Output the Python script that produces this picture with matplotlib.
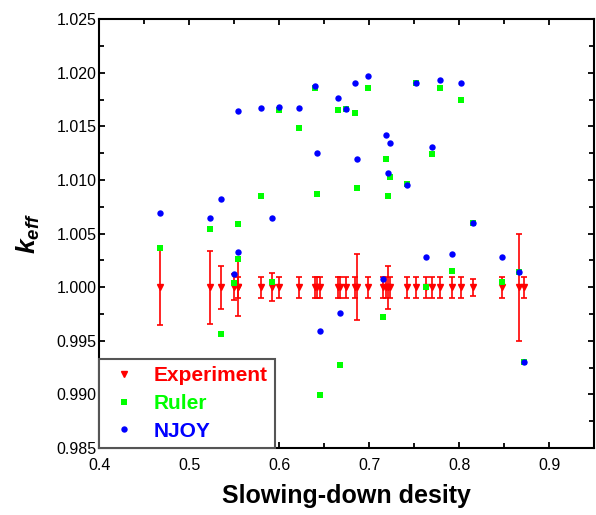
import matplotlib
matplotlib.use('Agg')
import matplotlib.pyplot as plt
from matplotlib.lines import Line2D
from matplotlib.ticker import MultipleLocator, FormatStrFormatter

plt.rcParams['font.family'] = ['Liberation Sans', 'DejaVu Sans']
plt.rcParams['mathtext.fontset'] = 'custom'
plt.rcParams['mathtext.bfit'] = 'Liberation Sans:italic:bold'
plt.rcParams['mathtext.it'] = 'Liberation Sans:italic'
plt.rcParams['mathtext.rm'] = 'Liberation Sans'

# slowing-down density of each configuration
density = [0.4678, 0.5230, 0.5350, 0.5497, 0.5538, 0.5545, 0.5800, 0.5920,
           0.5993, 0.6220, 0.6400, 0.6420, 0.6450, 0.6650, 0.6670, 0.6740,
           0.6841, 0.6858, 0.6982, 0.7150, 0.7189, 0.7203, 0.7232, 0.7422,
           0.7522, 0.7633, 0.7693, 0.7790, 0.7923, 0.8022, 0.8150, 0.8475,
           0.8663, 0.8722]

exp_keff = [1.0] * len(density)
exp_err = [0.0035, 0.0034, 0.0020, 0.0012, 0.0010, 0.0027, 0.0010, 0.0013,
           0.0010, 0.0010, 0.0010, 0.0010, 0.0010, 0.0010, 0.0010, 0.0010,
           0.0010, 0.0031, 0.0010, 0.0010, 0.0010, 0.0020, 0.0010, 0.0010,
           0.0010, 0.0010, 0.0010, 0.0010, 0.0010, 0.0010, 0.0008, 0.0010,
           0.0050, 0.0010]

ruler_keff = [1.0037, 1.0054, 0.9956, 1.0004, 1.0059, 1.0026, 1.0085, 1.0005,
              1.0165, 1.0149, 1.0186, 1.0087, 0.9899, 1.0165, 0.9927, 1.0166,
              1.0163, 1.0093, 1.0186, 0.9972, 1.0120, 1.0085, 1.0103, 1.0096,
              1.0191, 1.0000, 1.0124, 1.0186, 1.0015, 1.0175, 1.0060, 1.0005,
              1.0014, 0.9930]

njoy_keff = [1.0069, 1.0065, 1.0082, 1.0012, 1.0164, 1.0033, 1.0167, 1.0065,
             1.0168, 1.0167, 1.0188, 1.0125, 0.9959, 1.0177, 0.9976, 1.0166,
             1.0191, 1.0120, 1.0197, 1.0008, 1.0142, 1.0107, 1.0135, 1.0095,
             1.0191, 1.0028, 1.0131, 1.0193, 1.0031, 1.0191, 1.0060, 1.0028,
             1.0014, 0.9930]

RED, GREEN, BLUE = '#ff0000', '#00ff00', '#0000ff'

fig = plt.figure(figsize=(5.96, 5.15), dpi=100)
ax = fig.add_axes([0.1666, 0.1301, 0.8305, 0.8324])

ax.errorbar(density, exp_keff, yerr=exp_err, fmt='v', color=RED, ms=5,
            elinewidth=1.2, capsize=2.2, capthick=1.2, zorder=2)
ax.plot(density, ruler_keff, 's', color=GREEN, ms=4, mew=0, zorder=3)
ax.plot(density, njoy_keff, 'o', color=BLUE, ms=4.6, mew=0, zorder=4)

ax.set_xlim(0.4, 0.95)
ax.set_ylim(0.985, 1.025)
ax.xaxis.set_major_locator(MultipleLocator(0.1))
ax.xaxis.set_minor_locator(MultipleLocator(0.05))
ax.yaxis.set_major_locator(MultipleLocator(0.005))
ax.yaxis.set_minor_locator(MultipleLocator(0.0025))
ax.xaxis.set_major_formatter(FormatStrFormatter('%.1f'))
ax.yaxis.set_major_formatter(FormatStrFormatter('%.3f'))

ax.tick_params(which='both', direction='in', top=True, right=True,
               width=1.3, labelsize=11.5)
ax.tick_params(which='major', length=4.5)
ax.tick_params(which='minor', length=3.5)
ax.tick_params(axis='x', pad=7)
ax.tick_params(axis='y', pad=2)
for sp in ax.spines.values():
    sp.set_linewidth(1.5)

ax.set_xlabel('Slowing-down desity', fontsize=18, fontweight='bold')
ax.xaxis.set_label_coords(0.5, -0.085)
ax.set_ylabel(r'$\mathbfit{k}_{\mathbfit{eff}}$', fontsize=19)
ax.yaxis.set_label_coords(-0.115, 0.5)

handles = [
    Line2D([], [], marker='v', ls='none', color=RED, ms=5),
    Line2D([], [], marker='s', ls='none', color=GREEN, ms=4, mew=0),
    Line2D([], [], marker='o', ls='none', color=BLUE, ms=4.6, mew=0),
]
leg = ax.legend(handles, ['Experiment', 'Ruler', 'NJOY'], loc='lower left',
                bbox_to_anchor=(0, 0), borderaxespad=0, fancybox=False,
                prop={'size': 15, 'weight': 'bold'},
                labelcolor=[RED, GREEN, BLUE], borderpad=0.35,
                handlelength=1.7, handletextpad=0.55, labelspacing=0.42)
leg.get_frame().set_edgecolor('#555555')
leg.get_frame().set_linewidth(1.5)
leg.get_frame().set_alpha(1)

fig.savefig('out.png', dpi=100)
